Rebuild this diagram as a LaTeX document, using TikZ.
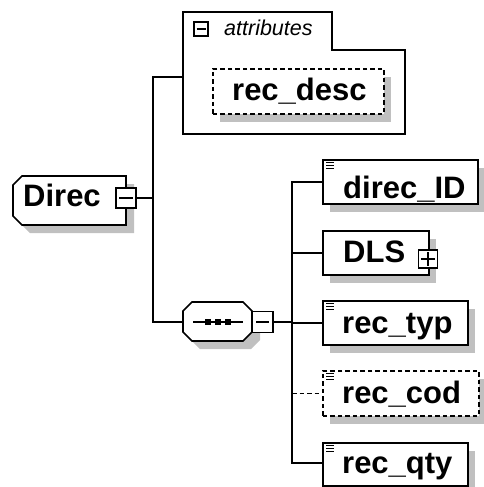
\documentclass[tikz,border=0pt]{standalone}
\usepackage{fontspec}
\setmainfont{Liberation Sans}
\usetikzlibrary{shadows}
\definecolor{shadowgray}{RGB}{192,192,192}
\tikzset{
  ln/.style={line width=1.6pt, line cap=rect},
  sh/.style={drop shadow={shadow xshift=7pt, shadow yshift=-8pt, fill=shadowgray, opacity=1}},
  elbox/.style={draw, fill=white, line width=1.6pt, rectangle, inner sep=0pt, anchor=north west, sh},
  optbox/.style={elbox, dash pattern=on 4.5pt off 3pt},
  lbl/.style={font=\fontsize{31}{31}\selectfont\bfseries, anchor=base west, inner sep=0pt},
  iconbox/.style={draw, fill=white, line width=1.6pt, rectangle, inner sep=0pt, minimum width=20pt, minimum height=20pt},
}
\begin{document}
\begin{tikzpicture}[x=1pt,y=-1pt]
\useasboundingbox (0,0) rectangle (483,487);

% ---------- Direc ----------
\fill[shadowgray] (30,184) -- (21,193) -- (21,224) -- (30,233) -- (134,233) -- (134,184) -- cycle;
\draw[ln, line cap=butt, fill=white] (22,176) -- (13,185) -- (13,216) -- (22,225) -- (126,225) -- (126,176) -- cycle;
\node[lbl] (direcT) at (23,206) {Direc};
\node[iconbox, minimum width=20pt, minimum height=20pt] (direcM) at (126,198) {};
\draw[ln] ([xshift=-6pt]direcM.center) -- ([xshift=6pt]direcM.center);

\coordinate (v1top) at (153,77);
\coordinate (v1mid) at (153,198);
\coordinate (v1bot) at (153,322);

% ---------- attributes ----------
\draw[ln, fill=white] (183,12) -- (332,12) -- (332,50) -- (405,50) -- (405,134) -- (183,134) -- cycle;
\coordinate (attrL) at (183,77);
\node[iconbox, line width=1.3pt, minimum width=14pt, minimum height=14pt] (attrM) at (201,29) {};
\draw[line width=1.2pt] ([xshift=-4.5pt]attrM.center) -- ([xshift=4.5pt]attrM.center);
\node[font=\fontsize{21.5}{22}\selectfont\itshape, anchor=base west, inner sep=0pt] (attrT) at (224,36) {attributes};
\node[optbox, minimum width=171pt, minimum height=45pt] (recdesc) at (212,68) {};
\node[lbl] (recdescT) at (232,100) {rec\_desc};

% ---------- sequence ----------
\fill[shadowgray] (200,310) -- (191,319) -- (191,340) -- (200,349) -- (251,349) -- (260,340) -- (260,319) -- (251,310) -- cycle;
\draw[ln, line cap=butt, fill=white] (192,302) -- (183,311) -- (183,332) -- (192,341) -- (243,341) -- (252,332) -- (252,311) -- (243,302) -- cycle;
\coordinate (seqL) at (183,322);
\draw[line width=1.6pt] (193,322) -- (243,322);
\foreach \xx in {208,218,228} \fill (\xx-3,319) rectangle (\xx+3,325);
\node[iconbox, minimum width=21pt, minimum height=21pt] (seqM) at (262.5,322) {};
\draw[ln] ([xshift=-6pt]seqM.center) -- ([xshift=6pt]seqM.center);

\coordinate (v2top) at (292,182);
\coordinate (v2bot) at (292,463);

% ---------- children ----------
\node[elbox, minimum width=155pt, minimum height=44pt] (direcID) at (322,159) {};
\node[lbl] (direcIDT) at (343,198) {direc\_ID};

\node[elbox, minimum width=106pt, minimum height=44pt] (DLS) at (322,230) {};
\node[lbl] (DLST) at (343,262) {DLS};
\node[iconbox, minimum width=19pt, minimum height=18pt] (DLSP) at (428,259) {};
\draw[ln] ([xshift=-6pt]DLSP.center) -- ([xshift=6pt]DLSP.center);
\draw[ln] ([yshift=-6pt]DLSP.center) -- ([yshift=6pt]DLSP.center);

\node[elbox, minimum width=145pt, minimum height=44pt] (rectyp) at (322,300) {};
\node[lbl] (rectypT) at (342,333) {rec\_typ};

\node[optbox, minimum width=156pt, minimum height=45pt] (reccod) at (322,370) {};
\node[lbl] (reccodT) at (342,403) {rec\_cod};

\node[elbox, minimum width=145pt, minimum height=43pt] (recqty) at (322,442) {};
\node[lbl] (recqtyT) at (342,473) {rec\_qty};

% doc icons
\foreach \n in {direcID,rectyp,reccod,recqty}{
  \foreach \dy in {3.5,6.5,9.5} \draw[line width=1.3pt] ([xshift=4pt,yshift=-\dy pt]\n.north west) -- ([xshift=12pt,yshift=-\dy pt]\n.north west);
}

% ---------- connectors ----------
\draw[ln] (direcM.east) -- (v1mid);
\draw[ln] (v1top) -- (v1bot);
\draw[ln] (v1top) -- (attrL);
\draw[ln] (v1bot) -- (seqL);
\draw[ln] (seqM.east) -- (v2top |- seqM.east);
\draw[ln] (v2top) -- (v2bot);
\draw[ln] (v2top) -- (direcID.west |- v2top);
\draw[ln] (DLS.west -| v2top) -- (DLS.west);
\draw[ln] (rectyp.west -| v2top) -- (rectyp.west);
\draw[line width=1.6pt, dash pattern=on 4.5pt off 3pt] (reccod.west -| v2top) -- (reccod.west);
\draw[ln] (v2bot) -- (recqty.west |- v2bot);
\end{tikzpicture}
\end{document}
